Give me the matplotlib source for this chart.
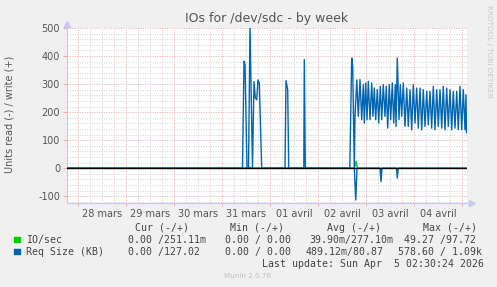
import numpy as np
import matplotlib.pyplot as plt
from matplotlib.patches import Rectangle

# hours since 28 mars 00:00
write_h = [-5.5, 82.25, 83.0, 83.5, 84.5, 85.25, 86.0, 87.25, 88.0, 88.65, 89.35, 90.0, 90.65, 91.85,
           103.5, 104.0, 104.85, 105.35, 112.9, 113.15, 113.65,
           135.9, 136.85, 137.35, 138.15, 138.5, 139.4, 140.15, 141.0, 141.85, 142.65, 143.15, 143.85,
           144.5, 145.15, 146.0, 146.85, 147.5, 148.15, 148.85, 149.65, 150.35, 151.15, 151.85, 152.65,
           153.5, 154.15, 154.85, 155.65, 156.35, 157.15, 157.85, 158.65, 159.0, 159.65, 160.5, 161.15,
           161.85, 162.65, 163.5, 164.35, 165.15, 166.0, 166.85, 167.65, 168.5, 169.35, 170.15, 171.0,
           171.85, 172.65, 173.5, 174.35, 175.15, 176.0, 176.85, 177.65, 178.5, 179.35, 180.15, 181.0,
           181.85, 182.65, 183.5, 184.35, 185.15, 186.0, 186.85, 187.65, 188.5, 189.35, 190.15, 191.0,
           191.85, 192.65, 193.5, 194.0, 194.25]
write_kb = [0, 0, 381, 370, 0, 0, 510, 0, 309, 251, 244, 315, 304, 0,
            0, 312, 280, 0, 0, 387, 0,
            0, 393, 363, 0, 184, 315, 185, 316, 173, 298, 161, 304,
            173, 310, 173, 304, 185, 286, 173, 280, 161, 292, 173, 298,
            185, 292, 143, 298, 173, 304, 161, 298, 149, 393, 173, 298,
            185, 304, 149, 286, 149, 280, 137, 298, 161, 286, 143, 286,
            137, 280, 149, 274, 155, 274, 143, 292, 137, 280, 149, 280,
            143, 292, 137, 286, 149, 280, 137, 274, 143, 274, 137, 292,
            137, 280, 137, 262, 127]

read_h = [-5.5, 138.15, 138.9, 139.5, 151.0, 151.5, 152.0, 159.25, 159.65, 160.1, 194.25]
read_kb = [0, 0, -113, 0, 0, -48, 0, 0, -35, 0, 0]

io_h = [-5.5, 85.5, 86.0, 86.5, 138.25, 139.0, 139.75, 151.0, 151.5, 152.0, 159.25, 159.65, 160.1, 194.25]
io_val = [0, 0, 4, 0, 0, 24, 0, 0, -12, 0, 0, -8, 0, 0]

day_labels = ["28 mars", "29 mars", "30 mars", "31 mars", "01 avril", "02 avril", "03 avril", "04 avril"]
y_ticks = [-100, 0, 100, 200, 300, 400, 500]

W, H = 497, 287
bg = "#f0f0f0"
txt = "#555555"
fig = plt.figure(figsize=(W / 100, H / 100), dpi=100, facecolor=bg)
ax = fig.add_axes([67 / W, 1 - 203 / H, (466.5 - 67) / W, (203 - 28) / H])
ax.set_facecolor("white")
xmin, xmax = -5.5, 194.25
ymin, ymax = -124, 500
ax.set_xlim(xmin, xmax)
ax.set_ylim(ymin, ymax)

# grid
minor_col = "#d4d4d4"
major_col = "#f0a8a8"
for v in np.arange(-120, 501, 20):
    if v % 100:
        ax.axhline(v, color=minor_col, lw=0.7, ls=(0, (1, 1.5)), zorder=0)
for h in np.arange(-6, 195, 6):
    if h % 24:
        ax.axvline(h, color=minor_col, lw=0.7, ls=(0, (1, 1.5)), zorder=0)
for v in y_ticks:
    ax.axhline(v, color=major_col, lw=0.7, ls=(0, (1, 1.5)), zorder=0.5)
for h in np.arange(0, 195, 24):
    ax.axvline(h, color=major_col, lw=0.7, ls=(0, (1, 1.5)), zorder=0.5)

ax.plot(io_h, io_val, color="#00cc00", lw=1.0, zorder=2)
ax.plot(read_h, read_kb, color="#0066b3", lw=1.0, zorder=3)
ax.plot(write_h, write_kb, color="#0066b3", lw=1.0, zorder=3)
ax.axhline(0, color="black", lw=1.0, zorder=4)

for s in ["top", "right"]:
    ax.spines[s].set_visible(False)
axis_col = "#c8c8f0"
ax.spines["left"].set_color(axis_col)
ax.spines["bottom"].set_color(axis_col)
ax.plot([xmin, xmin], [ymax, ymax + 18], color=axis_col, lw=1, clip_on=False)
ax.plot([xmin], [ymax + 16], marker="^", ms=4, color=axis_col, clip_on=False)
ax.plot([xmax, xmax + 2], [ymin, ymin], color=axis_col, lw=1, clip_on=False)
ax.plot([xmax + 2.5], [ymin], marker=">", ms=4, color=axis_col, clip_on=False)

ax.set_yticks(y_ticks)
ax.set_yticklabels([str(v) for v in y_ticks])
ax.set_xticks([12 + 24 * i for i in range(len(day_labels))])
ax.set_xticklabels(day_labels)
ax.set_xticks(np.arange(0, 195, 24), minor=True)
ax.tick_params(axis="x", which="major", length=0, pad=4, labelsize=7, colors=txt)
ax.tick_params(axis="x", which="minor", length=2, color=major_col)
ax.tick_params(axis="y", length=3, pad=2, labelsize=7, colors=txt, color=major_col)

ax.set_title("IOs for /dev/sdc - by week", fontsize=9, color=txt, pad=4)
fig.text(10 / W, 1 - 114.5 / H, "Units read (-) / write (+)", rotation=90,
         ha="center", va="center", fontsize=7, color=txt)
fig.text(489 / W, 1 - 5 / H, "RRDTOOL / TOBI OETIKER", rotation=270,
         ha="center", va="top", fontsize=5.2, color="#c8c8c8")


def t(x, y, s, **kw):
    fig.text(x / W, 1 - y / H, s, family="DejaVu Sans Mono", fontsize=7.1,
             color="#444444", va="center", ha="left", **kw)


t(135, 228, "Cur (-/+)")
t(230, 228, "Min (-/+)")
t(327, 228, "Avg (-/+)")
t(422.7, 228, "Max (-/+)")

t(26, 240, "IO/sec")
t(128, 240, "0.00 /251.11m")
t(225, 240, "0.00 / 0.00")
t(309, 240, "39.90m/277.10m")
t(404.3, 240, "49.27 /97.72")

t(26, 252, "Req Size (KB)")
t(128, 252, "0.00 /127.02")
t(225, 252, "0.00 / 0.00")
t(306, 252, "489.12m/80.87")
t(398.3, 252, "578.60 / 1.09k")

t(261.7, 264, "Last update: Sun Apr  5 02:30:24 2026")

fig.patches.append(Rectangle((14 / W, 1 - 242 / H), 6 / W, 5.5 / H, color="#00cc00",
                             transform=fig.transFigure, figure=fig))
fig.patches.append(Rectangle((14 / W, 1 - 254 / H), 6 / W, 5.5 / H, color="#0066b3",
                             transform=fig.transFigure, figure=fig))
fig.text(248 / W, 1 - 276 / H, "Munin 2.0.76", ha="center", va="center",
         fontsize=5.2, color="#c0c0c0")

fig.savefig("out.png", dpi=100, facecolor=bg)
